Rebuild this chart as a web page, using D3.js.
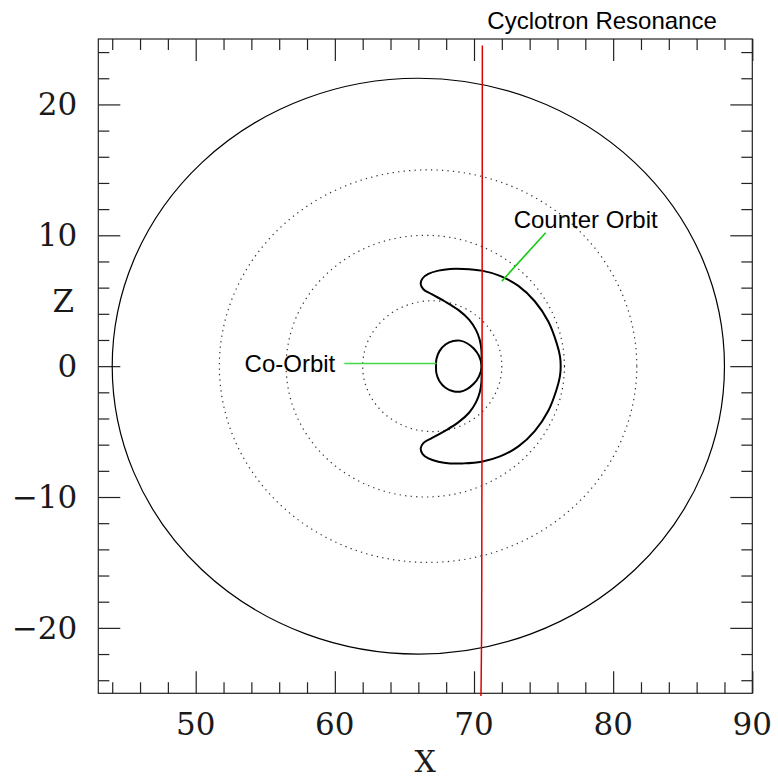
<!DOCTYPE html>
<html>
<head>
<meta charset="utf-8">
<script src="https://cdn.jsdelivr.net/npm/d3@7"></script>
<style>
  body { margin: 0; background: #fff; }
  .tick-label { font-family: "DejaVu Serif", serif; font-size: 31px; fill: #1a1a1a; }
  .note { font-family: "Liberation Sans", Arial, sans-serif; font-size: 24px; fill: #000; }
</style>
</head>
<body>
<div id="chart"></div>
<script>
// axis ranges and ticks
const xDomain = [43, 90];
const zDomain = [-25, 25];
const xMajor = [50, 60, 70, 80, 90];
const zMajor = [-20, -10, 0, 10, 20];

// plasma boundary and flux surfaces (centre x, radius)
const boundaryCentre = 66, boundaryRadius = 22;
const fluxCentres = [67.0, 66.5, 66.7];
const fluxRadii = [5, 10, 15];

// cyclotron resonance line
const resX = [70.6, 70.58, 70.55, 70.5];
const resZ = [24.5, 0, -20, -25.2];

// co-passing orbit
const coX = [70.55, 70.35, 69.98, 69.5, 69.0, 68.5, 67.95, 67.52, 67.3, 67.27, 67.3, 67.52, 67.95, 68.5, 69.0, 69.5, 69.98, 70.35];
const coZ = [0, 0.8, 1.35, 1.75, 1.95, 1.92, 1.65, 1.15, 0.55, 0, -0.55, -1.15, -1.65, -1.92, -1.95, -1.75, -1.35, -0.8];

// counter orbit (crescent)
const ctrX = [70.55, 70.53, 70.41, 70.14, 69.66, 68.87, 67.92, 66.96, 66.36, 66.17, 66.31, 66.72, 67.44, 68.28, 69.23, 70.55, 71.87, 73.19, 74.38, 75.34, 75.94, 76.18, 76.23,
              76.18, 75.94, 75.34, 74.38, 73.19, 71.87, 70.55, 69.23, 68.28, 67.44, 66.72, 66.31, 66.17, 66.36, 66.96, 67.92, 68.87, 69.66, 70.14, 70.41, 70.53];
const ctrZ = [0, 1.25, 2.01, 2.77, 3.54, 4.30, 4.94, 5.50, 5.88, 6.28, 6.72, 7.05, 7.30, 7.43, 7.43, 7.30, 6.90, 6.13, 4.94, 3.41, 1.76, 0.74, 0,
              -0.74, -1.76, -3.41, -4.94, -6.13, -6.90, -7.30, -7.43, -7.43, -7.30, -7.05, -6.72, -6.28, -5.88, -5.50, -4.94, -4.30, -3.54, -2.77, -2.01, -1.25];

// pointer lines for the labels
const coPointer = [[60.68, 0.2], [67.3, 0.2]];
const ctrPointer = [[75.15, 10.2], [72.0, 6.5]];

const margin = {top: 39, right: 25.7, bottom: 86.7, left: 98.3};
const width = 778 - margin.left - margin.right;
const height = 780 - margin.top - margin.bottom;

const svg = d3.select("#chart").append("svg")
    .attr("width", 778)
    .attr("height", 780)
    .append("g")
    .attr("transform", `translate(${margin.left},${margin.top})`);

const x = d3.scaleLinear().domain(xDomain).range([0, width]);
const y = d3.scaleLinear().domain(zDomain).range([height, 0]);

const xMinor = d3.range(44, 91, 2).filter(d => !xMajor.includes(d));
const zMinor = d3.range(-24, 25, 2).filter(d => !zMajor.includes(d));

// ticks on all four sides, pointing inward
function tickAxis(axisFn, scale, values, size, transform) {
    const g = svg.append("g")
        .attr("transform", transform)
        .call(axisFn(scale).tickValues(values).tickSize(-size).tickFormat(""));
    g.select(".domain").remove();
    g.selectAll(".tick line").attr("stroke", "#222").attr("stroke-width", 1.2);
    return g;
}
tickAxis(d3.axisBottom, x, xMajor, 22, `translate(0,${height})`);
tickAxis(d3.axisBottom, x, xMinor, 11, `translate(0,${height})`);
tickAxis(d3.axisTop, x, xMajor, 22, "translate(0,0)");
tickAxis(d3.axisTop, x, xMinor, 11, "translate(0,0)");
tickAxis(d3.axisLeft, y, zMajor, 22, "translate(0,0)");
tickAxis(d3.axisLeft, y, zMinor, 11, "translate(0,0)");
tickAxis(d3.axisRight, y, zMajor, 22, `translate(${width},0)`);
tickAxis(d3.axisRight, y, zMinor, 11, `translate(${width},0)`);

svg.append("rect")
    .attr("width", width).attr("height", height)
    .attr("fill", "none").attr("stroke", "#222").attr("stroke-width", 1.2);

// tick labels
svg.selectAll(".xlab").data(xMajor).join("text")
    .attr("class", "tick-label")
    .attr("x", d => x(d)).attr("y", height + 42)
    .attr("text-anchor", "middle")
    .text(d => d);

svg.selectAll(".ylab").data(zMajor).join("text")
    .attr("class", "tick-label")
    .attr("x", -21).attr("y", d => y(d) + 11)
    .attr("text-anchor", "end")
    .text(d => d < 0 ? "\u2212" + Math.abs(d) : d);

svg.append("text").attr("class", "tick-label")
    .attr("x", width / 2).attr("y", height + 79)
    .attr("text-anchor", "middle").style("font-size", "30px").text("X");

svg.append("text").attr("class", "tick-label")
    .attr("x", -35).attr("y", y(5) + 11)
    .attr("text-anchor", "middle").text("Z");

// boundary and flux surfaces
svg.append("ellipse")
    .attr("cx", x(boundaryCentre)).attr("cy", y(0))
    .attr("rx", x(boundaryCentre + boundaryRadius) - x(boundaryCentre))
    .attr("ry", y(0) - y(boundaryRadius))
    .attr("fill", "none").attr("stroke", "#000").attr("stroke-width", 1.2);

svg.selectAll(".flux").data(fluxRadii).join("ellipse")
    .attr("class", "flux")
    .attr("cx", (d, i) => x(fluxCentres[i])).attr("cy", y(0))
    .attr("rx", (d, i) => x(fluxCentres[i] + d) - x(fluxCentres[i]))
    .attr("ry", d => y(0) - y(d))
    .attr("fill", "none").attr("stroke", "#333")
    .attr("stroke-width", 1.2).attr("stroke-dasharray", "1.3,4.2");

// orbits
const closed = d3.line().x(d => x(d[0])).y(d => y(d[1])).curve(d3.curveCatmullRomClosed);

svg.append("path")
    .datum(ctrX.map((d, i) => [d, ctrZ[i]]))
    .attr("d", closed)
    .attr("fill", "none").attr("stroke", "#000").attr("stroke-width", 2);

svg.append("path")
    .datum(coX.map((d, i) => [d, coZ[i]]))
    .attr("d", closed)
    .attr("fill", "none").attr("stroke", "#000").attr("stroke-width", 2);

// resonance
const resLine = d3.line().x(d => x(d[0])).y(d => y(d[1])).curve(d3.curveMonotoneY);
svg.append("path")
    .datum(resX.map((d, i) => [d, resZ[i]]))
    .attr("d", resLine)
    .attr("fill", "none").attr("stroke", "#e00000").attr("stroke-width", 1.5);

// pointers
const straight = d3.line().x(d => x(d[0])).y(d => y(d[1]));
svg.append("path").attr("d", straight(coPointer))
    .attr("stroke", "#44d844").attr("stroke-width", 1.6).attr("fill", "none");
svg.append("path").attr("d", straight(ctrPointer))
    .attr("stroke", "#11cc11").attr("stroke-width", 1.6).attr("fill", "none");

// annotations
svg.append("text").attr("class", "note")
    .attr("x", x(coPointer[0][0]) - 9).attr("y", y(coPointer[0][1]) + 8)
    .attr("text-anchor", "end").text("Co-Orbit");

svg.append("text").attr("class", "note")
    .attr("x", x(ctrPointer[0][0]) - 32).attr("y", y(ctrPointer[0][1]) - 4.5)
    .text("Counter Orbit");

svg.append("text").attr("class", "note")
    .attr("x", x(resX[0]) + 5).attr("y", -10)
    .text("Cyclotron Resonance");
</script>
</body>
</html>
